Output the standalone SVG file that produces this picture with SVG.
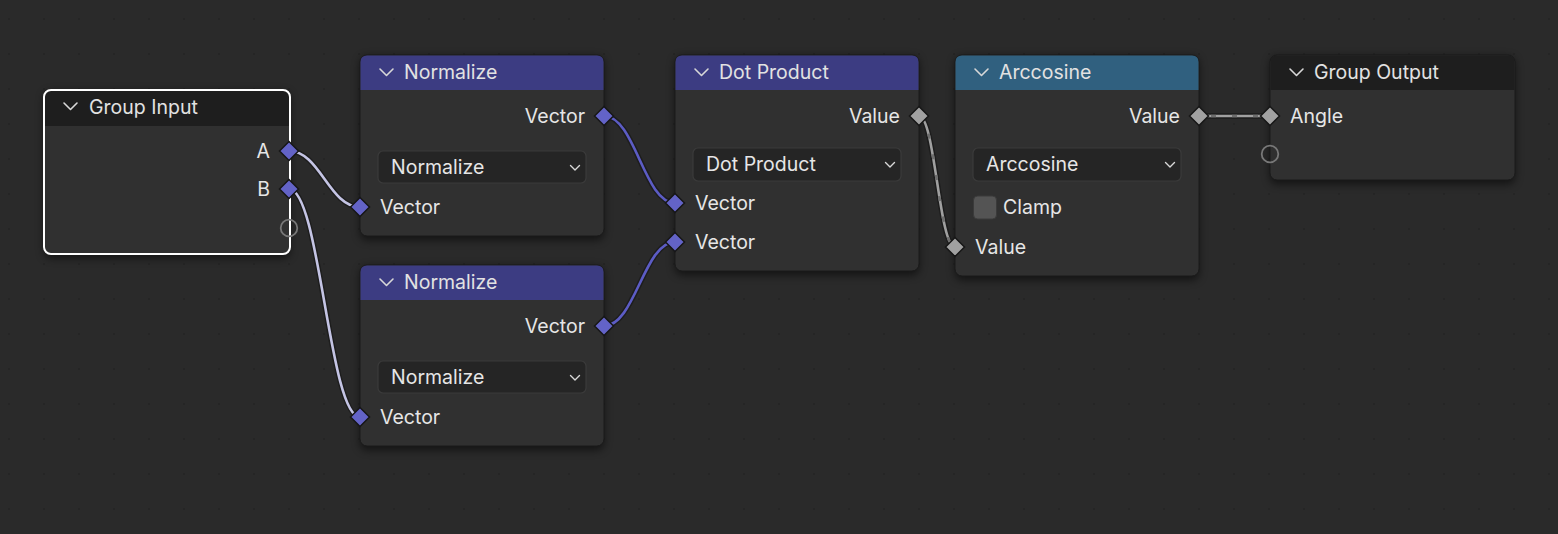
<svg xmlns="http://www.w3.org/2000/svg" width="1558" height="534" viewBox="0 0 1558 534">
  <defs>
    <pattern id="grid" x="8" y="18" width="35" height="35" patternUnits="userSpaceOnUse">
      <rect x="0" y="0" width="2" height="2" fill="#252525"/>
    </pattern>
    <filter id="shadow" x="-20%" y="-20%" width="140%" height="140%">
      <feGaussianBlur stdDeviation="4"/>
    </filter>
    <style>
      .txt { font-family: Inter, "Noto Sans", "DejaVu Sans", sans-serif; font-size: 19.5px; fill: #e6e6e6; }
      .title { font-family: Inter, "Noto Sans", "DejaVu Sans", sans-serif; font-size: 19.5px; fill: #e2e2e2; }
      .r { text-anchor: end; }
      .body { fill: #303030; stroke: #1a1a1a; stroke-width: 1; }
      .shadow { fill: #000; opacity: 0.55; filter: url(#shadow); }
      .hdr-vec { fill: #3c3c82; }
      .hdr-conv { fill: #30607f; }
      .hdr-grp { fill: #1e1e1e; }
      .chev { fill: none; stroke: #d8d8d8; stroke-width: 1.6; stroke-linecap: round; stroke-linejoin: round; }
      .menu { fill: #252525; stroke: #3b3b3b; stroke-width: 1.2; }
      .mchev { fill: none; stroke: #d8d8d8; stroke-width: 1.4; stroke-linecap: round; stroke-linejoin: round; }
      .svec { fill: #6363c7; stroke: #161616; stroke-width: 1.5; }
      .sflt { fill: #a1a1a1; stroke: #161616; stroke-width: 1.5; }
      .sempty { fill: none; stroke: #787878; stroke-width: 1.8; }
      .lout { fill: none; stroke: #1a1a1a; stroke-width: 5.5; opacity: 0.8; }
      .lsel { fill: none; stroke: #c4c4e4; stroke-width: 2.6; }
      .lvec { fill: none; stroke: #5c5cc4; stroke-width: 2.6; }
      .lflt { fill: none; stroke: #a0a0a0; stroke-width: 2.6; }
      .ldash { fill: none; stroke: #6e6e6e; stroke-width: 2.6; stroke-dasharray: 5 16; }
    </style>
  </defs>

  <rect x="0" y="0" width="1558" height="534" fill="#2a2a2a"/>
  <rect x="0" y="0" width="1558" height="534" fill="url(#grid)"/>

  <!-- shadows -->
  <g id="shadows">
    <rect class="shadow" x="44" y="92" width="246" height="166" rx="7"/>
    <rect class="shadow" x="360" y="57" width="244" height="183" rx="7"/>
    <rect class="shadow" x="360" y="267" width="244" height="183" rx="7"/>
    <rect class="shadow" x="675" y="57" width="244" height="218" rx="7"/>
    <rect class="shadow" x="955" y="57" width="244" height="223" rx="7"/>
    <rect class="shadow" x="1270" y="57" width="245" height="127" rx="7"/>
  </g>

  <!-- connectors -->
  <g id="connectors">
    <path class="lout" d="M289,151 C320,151 329,207 360,207"/>
    <path class="lsel" d="M289,151 C320,151 329,207 360,207"/>
    <path class="lout" d="M289,189 C320,189 329,417 360,417"/>
    <path class="lsel" d="M289,189 C320,189 329,417 360,417"/>
    <path class="lout" d="M604,116 C635,116 644,203 675,203"/>
    <path class="lvec" d="M604,116 C635,116 644,203 675,203"/>
    <path class="lout" d="M604,326 C635,326 644,242 675,242"/>
    <path class="lvec" d="M604,326 C635,326 644,242 675,242"/>
    <path class="lout" d="M919,116 C935,116 939,247 955,247"/>
    <path class="lflt" d="M919,116 C935,116 939,247 955,247"/>
    <path class="ldash" d="M919,116 C935,116 939,247 955,247"/>
    <path class="lout" d="M1199,116 L1270,116"/>
    <path class="lflt" d="M1199,116 L1270,116"/>
    <path class="ldash" d="M1199,116 L1270,116" stroke-dashoffset="-12"/>
  </g>

  <!-- Group Input -->
  <g id="group-input">
    <rect x="44" y="90" width="246" height="164" rx="7" fill="#303030"/>
    <path class="hdr-grp" d="M44,126 L44,97 Q44,90 51,90 L283,90 Q290,90 290,97 L290,126 Z"/>
    <rect x="44" y="90" width="246" height="164" rx="7" fill="none" stroke="#ffffff" stroke-width="2"/>
    <path class="chev" d="M64,103 L70.5,109.5 L77,103"/>
    <text class="title" x="89" y="114">Group Input</text>
    <text class="txt r" x="270" y="158">A</text>
    <text class="txt r" x="270" y="196">B</text>
    <path class="svec" d="M289,141.5 L298.5,151 L289,160.5 L279.5,151 Z"/>
    <path class="svec" d="M289,179.5 L298.5,189 L289,198.5 L279.5,189 Z"/>
    <circle class="sempty" cx="289" cy="228" r="8.3" fill="#303030"/>
  </g>

  <!-- Normalize 1 -->
  <g id="normalize-1">
    <rect class="body" x="360" y="55" width="244" height="181" rx="7"/>
    <path class="hdr-vec" d="M360.5,90 L360.5,62 Q360.5,55.5 367,55.5 L597,55.5 Q603.5,55.5 603.5,62 L603.5,90 Z"/>
    <path class="chev" d="M380,69 L386.5,75.5 L393,69"/>
    <text class="title" x="404" y="79">Normalize</text>
    <text class="txt r" x="585" y="123">Vector</text>
    <path class="svec" d="M604,106.5 L613.5,116 L604,125.5 L594.5,116 Z"/>
    <rect class="menu" x="378" y="151" width="208" height="32" rx="5"/>
    <text class="txt" x="391" y="174">Normalize</text>
    <path class="mchev" d="M570.5,165.5 L575,170 L579.5,165.5"/>
    <text class="txt" x="380" y="214">Vector</text>
    <path class="svec" d="M360,197.5 L369.5,207 L360,216.5 L350.5,207 Z"/>
  </g>

  <!-- Normalize 2 -->
  <g id="normalize-2">
    <rect class="body" x="360" y="265" width="244" height="181" rx="7"/>
    <path class="hdr-vec" d="M360.5,300 L360.5,272 Q360.5,265.5 367,265.5 L597,265.5 Q603.5,265.5 603.5,272 L603.5,300 Z"/>
    <path class="chev" d="M380,279 L386.5,285.5 L393,279"/>
    <text class="title" x="404" y="289">Normalize</text>
    <text class="txt r" x="585" y="333">Vector</text>
    <path class="svec" d="M604,316.5 L613.5,326 L604,335.5 L594.5,326 Z"/>
    <rect class="menu" x="378" y="361" width="208" height="32" rx="5"/>
    <text class="txt" x="391" y="384">Normalize</text>
    <path class="mchev" d="M570.5,375.5 L575,380 L579.5,375.5"/>
    <text class="txt" x="380" y="424">Vector</text>
    <path class="svec" d="M360,407.5 L369.5,417 L360,426.5 L350.5,417 Z"/>
  </g>

  <!-- Dot Product -->
  <g id="dot-product">
    <rect class="body" x="675" y="55" width="244" height="216" rx="7"/>
    <path class="hdr-vec" d="M675.5,90 L675.5,62 Q675.5,55.5 682,55.5 L912,55.5 Q918.5,55.5 918.5,62 L918.5,90 Z"/>
    <path class="chev" d="M695,69 L701.5,75.5 L708,69"/>
    <text class="title" x="719" y="79">Dot Product</text>
    <text class="txt r" x="900" y="123">Value</text>
    <path class="sflt" d="M919,106.5 L928.5,116 L919,125.5 L909.5,116 Z"/>
    <rect class="menu" x="693" y="148" width="208" height="33" rx="5"/>
    <text class="txt" x="706" y="171">Dot Product</text>
    <path class="mchev" d="M885.5,162.5 L890,167 L894.5,162.5"/>
    <text class="txt" x="695" y="210">Vector</text>
    <path class="svec" d="M675,193.5 L684.5,203 L675,212.5 L665.5,203 Z"/>
    <text class="txt" x="695" y="249">Vector</text>
    <path class="svec" d="M675,232.5 L684.5,242 L675,251.5 L665.5,242 Z"/>
  </g>

  <!-- Arccosine -->
  <g id="arccosine">
    <rect class="body" x="955" y="55" width="244" height="221" rx="7"/>
    <path class="hdr-conv" d="M955.5,90 L955.5,62 Q955.5,55.5 962,55.5 L1192,55.5 Q1198.5,55.5 1198.5,62 L1198.5,90 Z"/>
    <path class="chev" d="M975,69 L981.5,75.5 L988,69"/>
    <text class="title" x="999" y="79">Arccosine</text>
    <text class="txt r" x="1180" y="123">Value</text>
    <path class="sflt" d="M1199,106.5 L1208.5,116 L1199,125.5 L1189.5,116 Z"/>
    <rect class="menu" x="973" y="148" width="208" height="33" rx="5"/>
    <text class="txt" x="986" y="171">Arccosine</text>
    <path class="mchev" d="M1165.5,162.5 L1170,167 L1174.5,162.5"/>
    <rect x="973.5" y="196" width="23" height="23" rx="4" fill="#545454" stroke="#3a3a3a" stroke-width="1"/>
    <text class="txt" x="1003" y="214">Clamp</text>
    <text class="txt" x="975" y="254">Value</text>
    <path class="sflt" d="M955,237.5 L964.5,247 L955,256.5 L945.5,247 Z"/>
  </g>

  <!-- Group Output -->
  <g id="group-output">
    <rect class="body" x="1270" y="55" width="245" height="125" rx="7"/>
    <path class="hdr-grp" d="M1270.5,90 L1270.5,62 Q1270.5,55.5 1277,55.5 L1508,55.5 Q1514.5,55.5 1514.5,62 L1514.5,90 Z"/>
    <path class="chev" d="M1290,69 L1296.5,75.5 L1303,69"/>
    <text class="title" x="1314" y="79">Group Output</text>
    <text class="txt" x="1290" y="123">Angle</text>
    <path class="sflt" d="M1270,106.5 L1279.5,116 L1270,125.5 L1260.5,116 Z"/>
    <circle class="sempty" cx="1270" cy="154" r="8.3" fill="#303030"/>
  </g>
</svg>
